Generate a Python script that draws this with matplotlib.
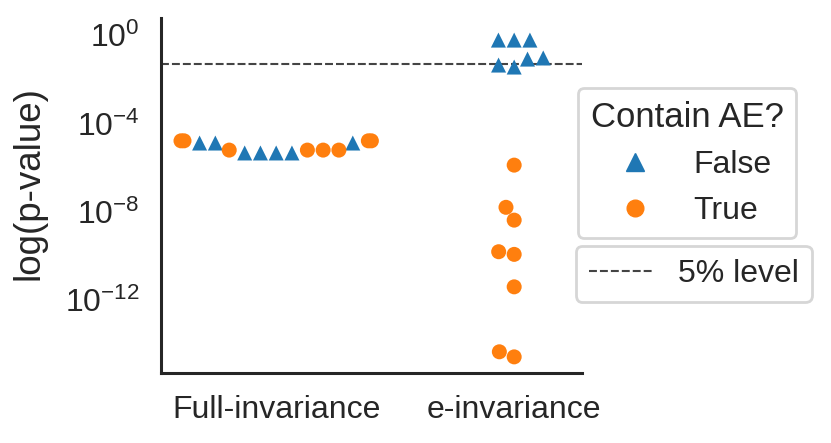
import numpy as np
import pandas as pd
import seaborn as sns
import matplotlib
matplotlib.use("Agg")
import matplotlib.pyplot as plt
from matplotlib.lines import Line2D
from matplotlib.markers import MarkerStyle

# log10 p-values
tests = ["Full-invariance", "e-invariance"]
full_false = [-4.89, -4.89, -4.89, -5.34, -5.34, -5.34, -5.34]
full_true = [-4.79, -4.79, -4.79, -4.79, -5.21, -5.21, -5.21, -5.21]
e_false = [-0.23, -0.23, -0.23, -1.04, -1.09, -1.36, -1.45]
e_true = [-5.89, -7.80, -8.38, -9.81, -9.93, -11.40, -14.34, -14.57]
level = 0.05

rows = []
for test, vals, ae in [(tests[0], full_false, "False"), (tests[0], full_true, "True"),
                       (tests[1], e_false, "False"), (tests[1], e_true, "True")]:
    for v in vals:
        rows.append({"test": test, "p": 10 ** v, "ae": ae})
df = pd.DataFrame(rows)

sns.set_context("poster")
sns.set_style("white")
plt.rcParams["font.family"] = ["Liberation Sans", "DejaVu Sans"]
plt.rcParams["mathtext.default"] = "regular"

blue, orange = "#1f77b4", "#ff7f0e"

fig = plt.figure(figsize=(8.31, 4.43), dpi=100)
ax = fig.add_axes([161 / 831, 1 - 373 / 443, 421 / 831, 355 / 443])
ax.set_yscale("log")
sns.swarmplot(data=df, x="test", y="p", hue="ae", order=tests, hue_order=["False", "True"],
              palette={"False": blue, "True": orange}, size=10.8, linewidth=0,
              legend=False, ax=ax)


def marker_path(m):
    ms = MarkerStyle(m)
    return ms.get_path().transformed(ms.get_transform())


# triangles for the models without AE, circles for the rest
tri_path, dot_path = marker_path("^"), marker_path("o")
blue_rgb = matplotlib.colors.to_rgb(blue)
for coll in ax.collections:
    fc = coll.get_facecolors()
    if len(fc) == 0:
        continue
    paths = [tri_path if np.allclose(c[:3], blue_rgb, atol=0.02) else dot_path for c in fc]
    coll.set_paths(paths)

ax.axhline(level, color="#444444", ls="--", lw=1.5, dashes=(3.8, 1.45))
ax.set_xlim(-0.484, 1.285)
ax.set_ylim(10 ** -15.3, 10 ** 0.77)
ax.set_yticks([1e-12, 1e-8, 1e-4, 1e0])
ax.yaxis.set_minor_locator(matplotlib.ticker.NullLocator())
ax.tick_params(labelsize=23, colors="#262626")
ax.set_xlabel("")
ax.set_ylabel("log(p-value)", fontsize=26.5)
ax.yaxis.set_label_coords(-0.271, 0.535)
sns.despine(ax=ax)
for s in ["left", "bottom"]:
    ax.spines[s].set_linewidth(2.2)
    ax.spines[s].set_color("#262626")

handles = [Line2D([], [], ls="", marker="^", color=blue, markersize=13, label="False"),
           Line2D([], [], ls="", marker="o", color=orange, markersize=12, label="True")]
leg1 = ax.legend(handles=handles, title="Contain AE?", loc="upper left",
                 bbox_to_anchor=(578 / 831, 1 - 88 / 443), bbox_transform=fig.transFigure,
                 borderaxespad=0, fontsize=23, title_fontsize=25)
ax.add_artist(leg1)
line_h = [Line2D([], [], color="#444444", ls="--", lw=1.5, dashes=(3.8, 1.45), label="5% level")]
ax.legend(handles=line_h, loc="upper left", bbox_to_anchor=(576 / 831, 1 - 246 / 443),
          bbox_transform=fig.transFigure, borderaxespad=0, fontsize=23)

fig.savefig("out.png", dpi=100)
